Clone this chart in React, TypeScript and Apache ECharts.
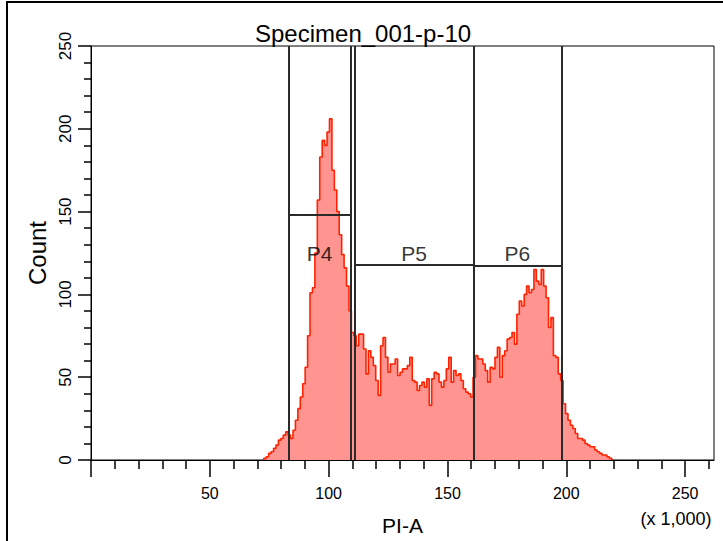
import { useEffect, useRef } from "react";
import * as echarts from "echarts";

const TITLE = "Specimen_001-p-10";
const X_NAME = "PI-A";
const X_UNIT = "(x 1,000)";
const Y_NAME = "Count";
const X_MAX = 262.144;
const Y_MAX = 250;
const X_TICKS = [0, 50, 100, 150, 200, 250];
const X_LABELS = [50, 100, 150, 200, 250];
const BIN_WIDTH = 1.024;
const FIRST_BIN = 71;
const COUNTS = [
  1, 2, 4, 5, 7, 9, 12, 13, 15, 17,
  15, 13, 18, 24, 31, 38, 46, 56, 75, 101,
  104, 125, 157, 183, 193, 190, 198, 206, 175, 163,
  150, 136, 124, 116, 105, 90, 77, 75, 69, 76,
  76, 67, 52, 66, 62, 57, 48, 39, 69, 74,
  62, 53, 58, 58, 61, 51, 53, 55, 55, 57,
  62, 48, 47, 42, 45, 47, 44, 49, 33, 49,
  53, 52, 47, 44, 48, 55, 62, 47, 54, 51,
  52, 48, 43, 41, 40, 38, 50, 63, 61, 61,
  58, 54, 47, 56, 55, 62, 68, 50, 63, 66,
  73, 74, 77, 70, 88, 96, 93, 100, 105, 101,
  103, 115, 108, 106, 115, 105, 98, 80, 86, 63,
  62, 52, 48, 34, 28, 24, 21, 19, 16, 13,
  13, 12, 10, 9, 8, 8, 6, 5, 4, 3,
  3, 2, 1,
];
const GATE_NAMES = ["P4", "P5", "P6"];
const GATE_LEFT = [83.2, 110.9, 160.9];
const GATE_RIGHT = [109.2, 160.9, 197.9];
const GATE_LEVEL = [148, 118, 117];
const GATE_LABEL_Y = [125, 125, 125];

const FONT = "'Liberation Sans', Arial, sans-serif";

export default function App() {
  const ref = useRef<HTMLDivElement>(null);
  useEffect(() => {
    if (!ref.current) return;
    const chart = echarts.init(ref.current, undefined, { renderer: "svg" });

    const histData: number[][] = [[FIRST_BIN * BIN_WIDTH, 0]];
    COUNTS.forEach((c, i) => histData.push([(FIRST_BIN + i) * BIN_WIDTH, c]));
    histData.push([(FIRST_BIN + COUNTS.length) * BIN_WIDTH, 0]);

    const gateLines: any[] = [];
    GATE_NAMES.forEach((_, i) => {
      gateLines.push([{ coord: [GATE_LEFT[i], 0] }, { coord: [GATE_LEFT[i], Y_MAX] }]);
      gateLines.push([{ coord: [GATE_RIGHT[i], 0] }, { coord: [GATE_RIGHT[i], Y_MAX] }]);
      gateLines.push([
        { coord: [GATE_LEFT[i], GATE_LEVEL[i]] },
        { coord: [GATE_RIGHT[i], GATE_LEVEL[i]] },
      ]);
    });

    const labelData = GATE_NAMES.map((n, i) => [
      (GATE_LEFT[i] + GATE_RIGHT[i]) / 2,
      GATE_LABEL_Y[i],
      n,
    ]);

    chart.setOption({
      animation: false,
      backgroundColor: "#fff",
      title: {
        text: TITLE,
        left: 250,
        top: 16,
        textStyle: { fontFamily: FONT, fontSize: 24, fontWeight: "normal", color: "#000" },
      },
      grid: {
        left: 91,
        top: 46,
        right: 9,
        bottom: 80,
        show: true,
        borderColor: "#000",
        borderWidth: 1,
        backgroundColor: "transparent",
      },
      xAxis: {
        type: "value",
        min: 0,
        max: X_MAX,
        interval: 50,
        splitLine: { show: false },
        axisLine: { show: true, lineStyle: { color: "#000", width: 1 } },
        axisTick: { show: true, length: 17, customValues: X_TICKS, lineStyle: { color: "#000", width: 1.5 } },
        minorTick: { show: true, splitNumber: 5, length: 9, lineStyle: { color: "#000", width: 1.5 } },
        axisLabel: {
          customValues: X_LABELS,
          margin: 25,
          color: "#000",
          fontFamily: FONT,
          fontSize: 16,
        },
        name: X_NAME,
        nameLocation: "middle",
        nameGap: 55,
        nameTextStyle: { fontFamily: FONT, fontSize: 21, color: "#000" },
      },
      yAxis: {
        type: "value",
        min: 0,
        max: Y_MAX,
        interval: 50,
        splitLine: { show: false },
        axisLine: { show: true, lineStyle: { color: "#000", width: 1 } },
        axisTick: { show: true, length: 13, lineStyle: { color: "#000", width: 1.5 } },
        minorTick: { show: true, splitNumber: 5, length: 7, lineStyle: { color: "#000", width: 1.5 } },
        axisLabel: {
          rotate: 90,
          margin: 17,
          color: "#000",
          fontFamily: FONT,
          fontSize: 17,
        },
        name: Y_NAME,
        nameLocation: "middle",
        nameRotate: 90,
        nameGap: 34,
        nameTextStyle: { fontFamily: FONT, fontSize: 24, color: "#000" },
      },
      graphic: [
        {
          type: "rect",
          shape: { x: 7, y: 2, width: 800, height: 600 },
          style: { fill: "none", stroke: "#000", lineWidth: 2 },
          silent: true,
        },
        {
          type: "text",
          x: 676,
          y: 519,
          style: {
            text: X_UNIT,
            fontFamily: FONT,
            fontSize: 18,
            fill: "#000",
            textAlign: "center",
            textVerticalAlign: "middle",
          },
        },
      ],
      series: [
        {
          name: "PI-A",
          type: "line",
          step: "end",
          data: histData,
          symbol: "none",
          lineStyle: { color: "#ff2200", width: 1.6 },
          areaStyle: { color: "#ff9490", opacity: 1 },
          z: 2,
          markLine: {
            silent: true,
            symbol: "none",
            label: { show: false },
            lineStyle: { color: "#2a2a2a", width: 2, type: "solid" },
            data: gateLines,
            z: 5,
          },
        },
        {
          name: "gates",
          type: "scatter",
          data: labelData,
          symbolSize: 1,
          itemStyle: { color: "transparent" },
          label: {
            show: true,
            position: "inside",
            formatter: (p: any) => p.value[2],
            fontFamily: FONT,
            fontSize: 21,
            color: "#000",
            textBorderWidth: 0,
          },
          z: 6,
        },
      ],
    });
    return () => chart.dispose();
  }, []);
  return (
    <div
      ref={ref}
      style={{ position: "absolute", left: 0, top: 0, width: 723, height: 541 }}
    />
  );
}
